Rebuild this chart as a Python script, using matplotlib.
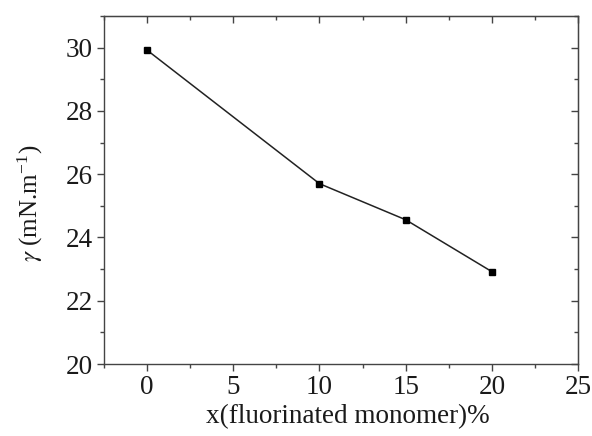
import matplotlib
matplotlib.use("Agg")
import matplotlib.pyplot as plt
from matplotlib.ticker import MultipleLocator

# data
monomer = [0, 10, 15, 20]
gamma = [29.92, 25.70, 24.56, 22.92]

plt.rcParams['font.family'] = ['Liberation Serif', 'DejaVu Serif']
plt.rcParams['mathtext.fontset'] = 'stix'

fig = plt.figure(figsize=(5.92, 4.36), dpi=100)
ax = fig.add_axes([0.1757, 0.1651, 0.8007, 0.7982])

ax.plot(monomer, gamma, color='#222222', linewidth=1.1,
        marker='s', markersize=4.5, markerfacecolor='black', markeredgecolor='black')

ax.set_xlim(-2.5, 25)
ax.set_ylim(20, 31)
ax.set_xticks([0, 5, 10, 15, 20, 25])
ax.set_yticks([20, 22, 24, 26, 28, 30])
ax.xaxis.set_minor_locator(MultipleLocator(2.5))
ax.yaxis.set_minor_locator(MultipleLocator(1))

for s in ax.spines.values():
    s.set_color('#444444')
    s.set_linewidth(1.0)

ax.tick_params(which='both', direction='out', top=False, right=False,
               labelsize=19.5, color='#444444', width=1.0, labelcolor='#1a1a1a')
ax.tick_params(which='major', length=5, pad=3)
ax.tick_params(which='minor', length=3)

# mirrored inward ticks on top/right
ax2 = ax.secondary_xaxis('top')
ax2.set_xticks([0, 5, 10, 15, 20, 25])
ax2.xaxis.set_minor_locator(MultipleLocator(2.5))
ax2.tick_params(which='both', direction='in', labeltop=False, color='#444444', width=1.0)
ax2.tick_params(which='major', length=5)
ax2.tick_params(which='minor', length=3)
ax3 = ax.secondary_yaxis('right')
ax3.set_yticks([20, 22, 24, 26, 28, 30])
ax3.yaxis.set_minor_locator(MultipleLocator(1))
ax3.tick_params(which='both', direction='in', labelright=False, color='#444444', width=1.0)
ax3.tick_params(which='major', length=5)
ax3.tick_params(which='minor', length=3)

ax.set_xlabel('x(fluorinated monomer)%', fontsize=19.5, labelpad=2, color='#1a1a1a')
ax.xaxis.set_label_coords(0.515, -0.115)
ax.set_ylabel(r'$\gamma$ (mN.m$^{\mathregular{-1}}$)', fontsize=18, color='#1a1a1a')
ax.yaxis.set_label_coords(-0.125, 0.463)

fig.savefig('out.png', dpi=100)
